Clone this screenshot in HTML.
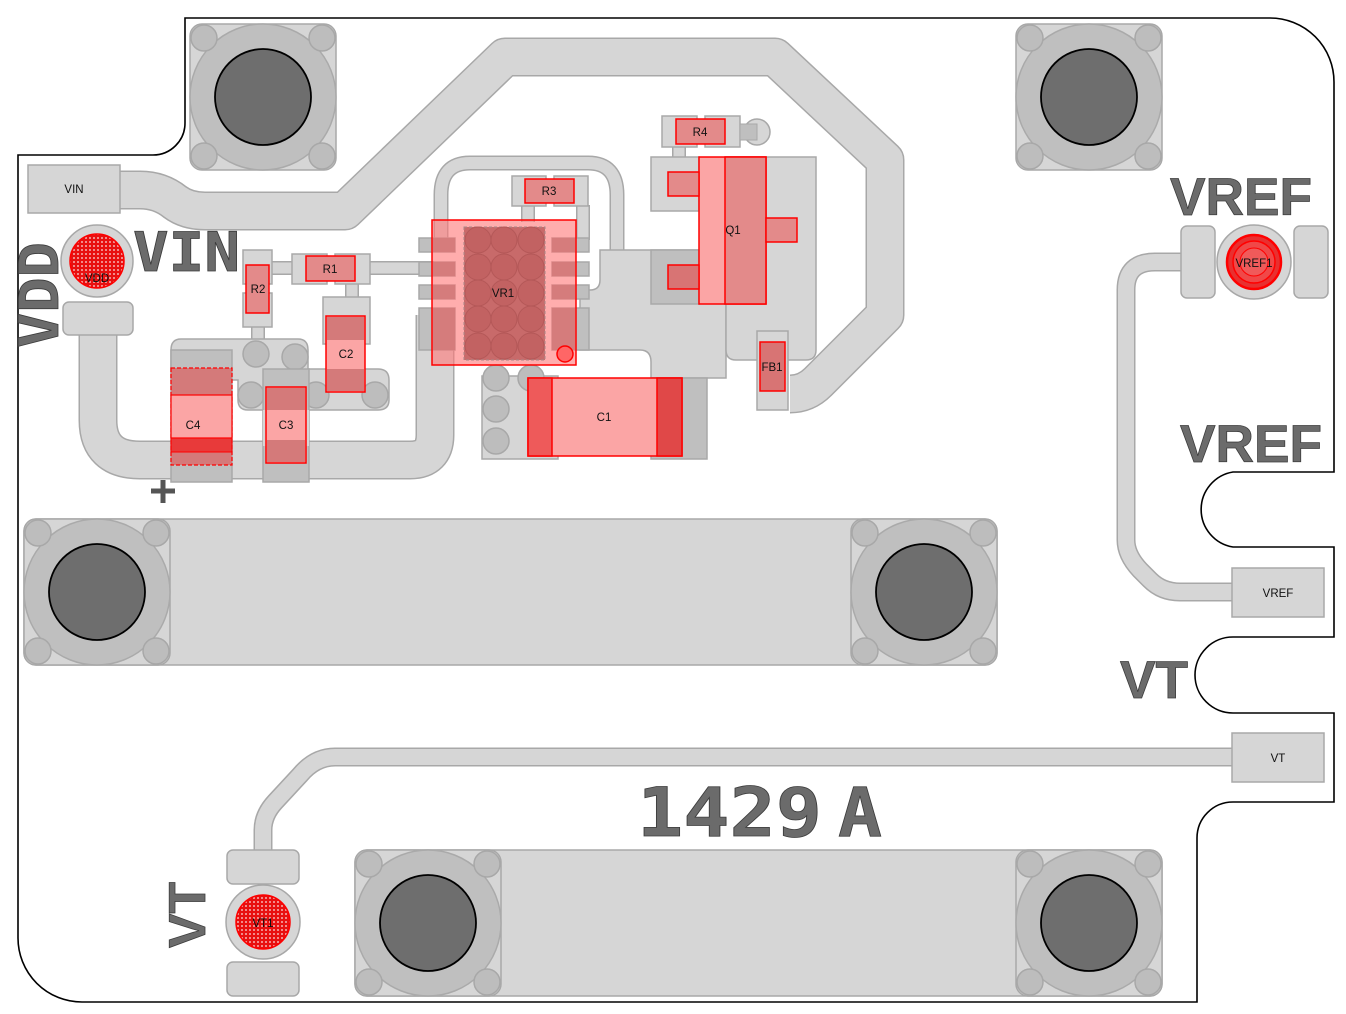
<!DOCTYPE html>
<html><head><meta charset="utf-8"><style>html,body{margin:0;padding:0;background:#fff}svg{display:block}</style></head><body>
<svg width="1346" height="1014" viewBox="0 0 1346 1014" xmlns="http://www.w3.org/2000/svg">
<defs>
<pattern id="grid" width="4" height="4" patternUnits="userSpaceOnUse"><rect width="4" height="4" fill="#e81010"/><rect x="1" y="1" width="2" height="2" fill="#f28a8a"/></pattern>
<g id="hole">
<rect x="-73" y="-73" width="146" height="146" rx="12" fill="#d6d6d6" stroke="#a8a8a8" stroke-width="1.5"/>
<circle r="73" fill="#bfbfbf" stroke="#aaa" stroke-width="1.5"/>
<circle cx="-59" cy="-59" r="13" fill="#bdbdbd" stroke="#a8a8a8" stroke-width="1.5"/>
<circle cx="59" cy="-59" r="13" fill="#bdbdbd" stroke="#a8a8a8" stroke-width="1.5"/>
<circle cx="-59" cy="59" r="13" fill="#bdbdbd" stroke="#a8a8a8" stroke-width="1.5"/>
<circle cx="59" cy="59" r="13" fill="#bdbdbd" stroke="#a8a8a8" stroke-width="1.5"/>
<circle r="48" fill="#6e6e6e" stroke="#000" stroke-width="1.8"/>
</g>
</defs>

<!-- board outline -->
<path d="M185,18 L1270,18 A64,64 0 0 1 1334,82 L1334,472 L1233,472 A38,38 0 0 0 1233,547 L1334,547 L1334,637 L1233,637 A38,38 0 0 0 1233,713 L1334,713 L1334,802 L1233,802 A36,36 0 0 0 1197,838 L1197,1002 L82,1002 A64,64 0 0 1 18,938 L18,155 L153,155 A32,32 0 0 0 185,123 Z" fill="#fff" stroke="#000" stroke-width="1.6"/>

<!-- big pads rect -->
<rect x="24" y="519" width="973" height="146" rx="12" fill="#d6d6d6" stroke="#a8a8a8" stroke-width="1.5"/>
<rect x="355" y="850" width="807" height="146" rx="12" fill="#d6d6d6" stroke="#a8a8a8" stroke-width="1.5"/>

<!-- traces -->
<g fill="none" stroke-linejoin="round" stroke-linecap="butt">
<path d="M115,190 L140,190 Q160,190 175,202 Q187,211 205,211 L345,211 L505,57 L775,57 L885,160 L885,315 L818,382 Q806,394 790,394" stroke="#a8a8a8" stroke-width="39"/>
<path d="M115,190 L140,190 Q160,190 175,202 Q187,211 205,211 L345,211 L505,57 L775,57 L885,160 L885,315 L818,382 Q806,394 790,394" stroke="#d6d6d6" stroke-width="36"/>
<path d="M98,330 L98,420 Q98,460 140,460 L410,460 Q435,460 435,435 L435,315" stroke="#a8a8a8" stroke-width="39"/>
<path d="M98,330 L98,420 Q98,460 140,460 L410,460 Q435,460 435,435 L435,315" stroke="#d6d6d6" stroke-width="36"/>
<path d="M1185,262 L1155,262 Q1126,262 1126,290 L1126,540 Q1126,555 1140,570 L1150,580 Q1162,592 1180,592 L1235,592" stroke="#a8a8a8" stroke-width="19"/>
<path d="M1185,262 L1155,262 Q1126,262 1126,290 L1126,540 Q1126,555 1140,570 L1150,580 Q1162,592 1180,592 L1235,592" stroke="#d6d6d6" stroke-width="16"/>
<path d="M263,855 L263,830 Q263,815 275,802 L300,775 Q315,757 335,757 L1235,757" stroke="#a8a8a8" stroke-width="19"/>
<path d="M263,855 L263,830 Q263,815 275,802 L300,775 Q315,757 335,757 L1235,757" stroke="#d6d6d6" stroke-width="16"/>
<path d="M441,250 L441,195 Q441,163 470,163 L588,163 Q617,163 617,195 L617,255" stroke="#a8a8a8" stroke-width="15"/>
<path d="M441,250 L441,195 Q441,163 470,163 L588,163 Q617,163 617,195 L617,255" stroke="#d6d6d6" stroke-width="12"/>
<path d="M270,268 L294,268 M368,268 L434,268 M258,326 L258,342 M352,284 L352,298 M528,205 L528,222 M583,205 L583,240 M679,146 L679,158" stroke="#a8a8a8" stroke-width="14"/>
<path d="M270,268 L294,268 M368,268 L434,268 M258,326 L258,342 M352,284 L352,298 M528,205 L528,222 M583,205 L583,240 M679,146 L679,158" stroke="#d6d6d6" stroke-width="11"/>
</g>

<!-- VR1 right copper area -->
<path d="M600,250 L726,250 L726,378 L651,378 L651,362 Q651,350 640,350 L580,350 L580,290 L590,290 Q600,290 600,280 Z" fill="#d6d6d6" stroke="#a8a8a8" stroke-width="1.5"/>
<path d="M726,250 L726,350 Q726,360 736,360 L806,360 Q816,360 816,350 L816,157 L726,157 Z" fill="#d6d6d6" stroke="#a8a8a8" stroke-width="1.5"/>
<rect x="651" y="378" width="56" height="81" fill="#bfbfbf" stroke="#a8a8a8" stroke-width="1.5"/>
<rect x="482" y="376" width="76" height="83" fill="#d6d6d6" stroke="#a8a8a8" stroke-width="1.5"/>
<g fill="#bdbdbd" stroke="#a8a8a8" stroke-width="1.5">
<circle cx="496" cy="378" r="13"/><circle cx="531" cy="378" r="13"/><circle cx="496" cy="409" r="13"/><circle cx="496" cy="441" r="13"/>
</g>

<!-- left copper blob -->
<path d="M181,339 L298,339 Q308,339 308,350 L308,369 L378,369 Q389,369 389,380 L389,400 Q389,410 378,410 L248,410 Q238,410 238,400 L238,380 L171,380 L171,350 Q171,339 181,339 Z" fill="#d6d6d6" stroke="#a8a8a8" stroke-width="1.5"/>
<g fill="#bdbdbd" stroke="#a8a8a8" stroke-width="1.5">
<circle cx="256" cy="354" r="13"/><circle cx="295" cy="357" r="13"/><circle cx="251" cy="395" r="13"/><circle cx="316" cy="395" r="13"/><circle cx="375" cy="395" r="13"/>
</g>

<!-- holes -->
<use href="#hole" x="263" y="97"/>
<use href="#hole" x="1089" y="97"/>
<use href="#hole" x="97" y="592"/>
<use href="#hole" x="924" y="592"/>
<use href="#hole" x="428" y="923"/>
<use href="#hole" x="1089" y="923"/>

<!-- pads -->
<g fill="#d6d6d6" stroke="#a8a8a8" stroke-width="1.5">
<rect x="28" y="165" width="92" height="48"/>
<rect x="1232" y="568" width="92" height="49"/>
<rect x="1232" y="733" width="92" height="49"/>
<rect x="63" y="302" width="70" height="33" rx="6"/>
<circle cx="97" cy="261" r="36"/>
<rect x="1181" y="226" width="34" height="72" rx="6"/>
<rect x="1294" y="226" width="34" height="72" rx="6"/>
<circle cx="1254" cy="262" r="37"/>
<rect x="227" y="850" width="72" height="34" rx="6"/>
<rect x="227" y="962" width="72" height="34" rx="6"/>
<circle cx="263" cy="922" r="37"/>
<!-- R2 -->
<rect x="243" y="250" width="29" height="34"/><rect x="243" y="293" width="29" height="34"/>
<!-- R1 -->
<rect x="292" y="254" width="35" height="30"/><rect x="335" y="254" width="35" height="30"/>
<!-- C2 -->
<rect x="323" y="297" width="47" height="47"/>
<!-- R3 -->
<rect x="512" y="176" width="34" height="30"/><rect x="554" y="176" width="34" height="30"/>
<!-- R4 -->
<rect x="662" y="116" width="35" height="31"/><rect x="705" y="116" width="35" height="31"/>
<circle cx="757" cy="132" r="13"/>
<!-- Q1 -->
<rect x="651" y="157" width="48" height="54"/>
<!-- FB1 -->
<rect x="757" y="331" width="31" height="79"/>
</g>
<rect x="651" y="250" width="48" height="54" fill="#bfbfbf" stroke="#a8a8a8" stroke-width="1.5"/>
<rect x="740" y="124" width="17" height="16" fill="#bfbfbf" stroke="#a8a8a8" stroke-width="1"/>
<rect x="171" y="350" width="61" height="132" fill="#bfbfbf" stroke="#a8a8a8" stroke-width="1.5"/>
<rect x="263" y="369" width="46" height="113" fill="#bfbfbf" stroke="#a8a8a8" stroke-width="1.5"/>
<rect x="171" y="395" width="61" height="43" fill="#d6d6d6"/>
<rect x="263" y="410" width="46" height="36" fill="#d6d6d6"/>

<!-- VR1 pads -->
<g fill="#bfbfbf" stroke="#a8a8a8" stroke-width="1.5">
<rect x="419" y="238" width="36" height="14"/><rect x="419" y="262" width="36" height="14"/><rect x="419" y="285" width="36" height="14"/><rect x="419" y="308" width="36" height="42"/>
<rect x="552" y="238" width="37" height="14"/><rect x="552" y="262" width="37" height="14"/><rect x="552" y="285" width="37" height="14"/><rect x="552" y="308" width="37" height="42"/>
</g>

<!-- red overlays -->
<g stroke="#f00" stroke-width="1.5">
<circle cx="97" cy="261" r="27" fill="url(#grid)"/>
<circle cx="263" cy="922" r="27" fill="url(#grid)"/>
<circle cx="1254" cy="262" r="27" fill="#e83030" stroke-width="2.5"/>
<circle cx="1254" cy="262" r="21" fill="#f04848"/>
<circle cx="1254" cy="262" r="14" fill="#f05a5a" stroke-width="1"/>
<rect x="432" y="220" width="144" height="145" fill="#f77" fill-opacity="0.6"/>
<rect x="528" y="378" width="154" height="78" fill="#fba5a5"/>
<rect x="699" y="157" width="67" height="147" fill="#fba5a5"/>
</g>
<g fill="#c96666" stroke="#a88" stroke-width="1" stroke-dasharray="3,2">
<rect x="464" y="227" width="81" height="133" fill="#c86a6a"/>
</g>
<g fill="#c26262" stroke="#b45858" stroke-width="1">
<circle cx="478" cy="240" r="13"/><circle cx="504" cy="240" r="13"/><circle cx="531" cy="240" r="13"/>
<circle cx="478" cy="267" r="13"/><circle cx="504" cy="267" r="13"/><circle cx="531" cy="267" r="13"/>
<circle cx="478" cy="293" r="13"/><circle cx="504" cy="293" r="13"/><circle cx="531" cy="293" r="13"/>
<circle cx="478" cy="319" r="13"/><circle cx="504" cy="319" r="13"/><circle cx="531" cy="319" r="13"/>
<circle cx="478" cy="346" r="13"/><circle cx="504" cy="346" r="13"/><circle cx="531" cy="346" r="13"/>
</g>
<g fill="#d47a7a" opacity="0.9">
<rect x="433" y="238" width="22" height="14"/><rect x="433" y="262" width="22" height="14"/><rect x="433" y="285" width="22" height="14"/><rect x="433" y="308" width="22" height="42"/>
<rect x="552" y="238" width="23" height="14"/><rect x="552" y="262" width="23" height="14"/><rect x="552" y="285" width="23" height="14"/><rect x="552" y="308" width="23" height="42"/>
</g>
<circle cx="565" cy="354" r="8" fill="#f66" stroke="#f00" stroke-width="1.5"/>
<g stroke="#f00" stroke-width="1.5">
<rect x="528" y="378" width="24" height="78" fill="#ee5a5a"/>
<rect x="657" y="378" width="25" height="78" fill="#e04848"/>
<rect x="725" y="157" width="41" height="147" fill="#e38a8a"/>
<rect x="766" y="218" width="31" height="24" fill="#e38a8a"/>
<rect x="668" y="172" width="31" height="24" fill="#e38a8a"/>
<rect x="668" y="265" width="31" height="24" fill="#d87474"/>
<rect x="676" y="119" width="49" height="25" fill="#e38a8a"/>
<rect x="525" y="179" width="49" height="24" fill="#e38a8a"/>
<rect x="306" y="256" width="49" height="25" fill="#e38a8a"/>
<rect x="246" y="265" width="23" height="48" fill="#e38a8a"/>
<rect x="760" y="342" width="25" height="49" fill="#d87474"/>
<rect x="326" y="316" width="39" height="76" fill="#fba5a5"/>
<rect x="266" y="387" width="40" height="76" fill="#fba5a5"/>
</g>
<g fill="#d47a7a">
<rect x="327" y="317" width="37" height="23"/><rect x="327" y="369" width="37" height="22"/>
<rect x="267" y="388" width="38" height="22"/><rect x="267" y="440" width="38" height="22"/>
<rect x="171" y="368" width="61" height="27"/><rect x="171" y="452" width="61" height="13"/>
</g>
<rect x="171" y="438" width="61" height="14" fill="#e83a3a" stroke="#f00" stroke-width="1"/>
<rect x="171" y="368" width="61" height="97" fill="none" stroke="#f00" stroke-width="1.2" stroke-dasharray="4,2"/>
<rect x="171" y="395" width="61" height="43" fill="#fba5a5" stroke="#f00" stroke-width="1.2"/>

<!-- plus -->
<path d="M163,480 L163,503 M151,491 L175,491" stroke="#555" stroke-width="5"/>

<!-- small labels -->
<g font-family="Liberation Sans, sans-serif" font-size="11.5" fill="#111" text-anchor="middle">
<text x="74" y="193">VIN</text>
<text x="1278" y="597">VREF</text>
<text x="1278" y="762">VT</text>
<text x="97" y="282">VDD</text>
<text x="263" y="927">VT1</text>
<text x="1254" y="267">VREF1</text>
<text x="258" y="293">R2</text>
<text x="330" y="273">R1</text>
<text x="346" y="358">C2</text>
<text x="193" y="429">C4</text>
<text x="286" y="429">C3</text>
<text x="503" y="297">VR1</text>
<text x="549" y="195">R3</text>
<text x="700" y="136">R4</text>
<text x="733" y="234">Q1</text>
<text x="772" y="371">FB1</text>
<text x="604" y="421">C1</text>
</g>

<!-- silkscreen -->
<g fill="#6b6b6b" stroke="#3c3c3c" stroke-width="0.8">
<text x="133" y="271" font-family="DejaVu Sans Mono, Liberation Mono, monospace" font-weight="bold" font-size="54" textLength="107" lengthAdjust="spacingAndGlyphs">VIN</text>
<text transform="translate(58,348) rotate(-90)" font-family="DejaVu Sans Mono, Liberation Mono, monospace" font-weight="bold" font-size="54" textLength="106" lengthAdjust="spacingAndGlyphs">VDD</text>
<text x="1170" y="215" font-family="Liberation Sans, sans-serif" font-weight="bold" font-size="53" textLength="142" lengthAdjust="spacingAndGlyphs">VREF</text>
<text x="1180" y="462" font-family="Liberation Sans, sans-serif" font-weight="bold" font-size="53" textLength="142" lengthAdjust="spacingAndGlyphs">VREF</text>
<text x="1120" y="698" font-family="Liberation Sans, sans-serif" font-weight="bold" font-size="53" textLength="68" lengthAdjust="spacingAndGlyphs">VT</text>
<text transform="translate(205,948) rotate(-90)" font-family="Liberation Sans, sans-serif" font-weight="bold" font-size="52" textLength="66" lengthAdjust="spacingAndGlyphs">VT</text>
<text x="637" y="836" font-family="DejaVu Sans Mono, Liberation Mono, monospace" font-weight="bold" font-size="68" textLength="185" lengthAdjust="spacingAndGlyphs">1429</text>
<text x="838" y="836" font-family="DejaVu Sans Mono, Liberation Mono, monospace" font-weight="bold" font-size="68" textLength="44" lengthAdjust="spacingAndGlyphs">A</text>
</g>
</svg>
</body></html>
